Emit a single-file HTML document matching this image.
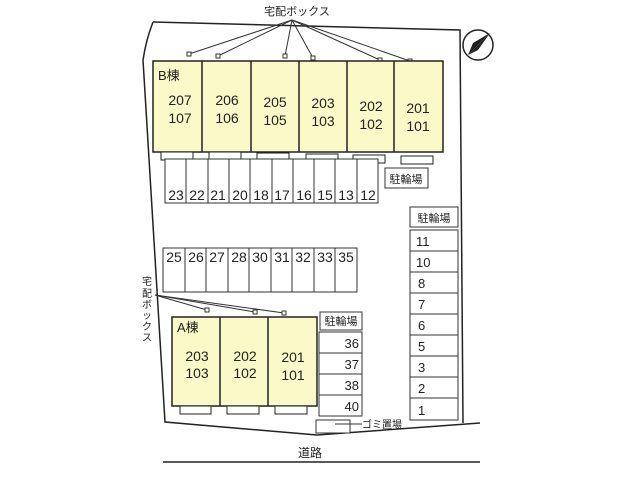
<!DOCTYPE html>
<html><head><meta charset="utf-8"><style>
html,body{margin:0;padding:0;background:#fff;}
svg{display:block;}
text{font-family:"Liberation Sans","Noto Sans CJK JP",sans-serif;fill:#222;}
</style></head><body>
<svg width="640" height="480" viewBox="0 0 640 480">
<g fill="none" stroke="#222" stroke-width="1.5">
<path d="M153,22 L460,30 L463,423"/>
<path d="M153,22 Q146,40 143,60 L165,422 L317,435 L480,423"/>
<path d="M163,462 L480,462"/>
</g>
<text x="310" y="457" font-size="12" text-anchor="middle">道路</text>
<circle cx="478" cy="45" r="15" fill="#fff" stroke="#222" stroke-width="1.5"/>
<path d="M468,55 L490,33 L478,50 Z" fill="#222"/>
<path d="M468,55 L490,33 L473,43 Z" fill="#222"/>
<text x="297" y="15" font-size="11" text-anchor="middle">宅配ボックス</text>
<g stroke="#333" stroke-width="1">
<line x1="292" y1="20" x2="189" y2="54"/><line x1="292" y1="20" x2="218" y2="56"/>
<line x1="292" y1="20" x2="285" y2="56"/><line x1="292" y1="20" x2="313" y2="58"/>
<line x1="292" y1="20" x2="380" y2="60"/><line x1="292" y1="20" x2="410" y2="61"/>
</g>
<g fill="#fff" stroke="#333" stroke-width="1">
<rect x="187" y="52" width="4" height="4"/><rect x="216" y="54" width="4" height="4"/>
<rect x="283" y="54" width="4" height="4"/><rect x="311" y="56" width="4" height="4"/>
<rect x="378" y="58" width="4" height="4"/><rect x="408" y="59" width="4" height="4"/>
</g>
<rect x="153" y="61" width="290" height="91" fill="#fafac8" stroke="#222" stroke-width="1.5"/>
<g stroke="#222" stroke-width="1.5">
<line x1="202" y1="61" x2="202" y2="152"/><line x1="251" y1="61" x2="251" y2="152"/>
<line x1="299" y1="61" x2="299" y2="152"/><line x1="347" y1="61" x2="347" y2="152"/>
<line x1="394" y1="61" x2="394" y2="152"/>
</g>
<g fill="#fff" stroke="#222" stroke-width="1">
<rect x="161" y="152" width="32" height="8"/><rect x="209" y="152" width="32" height="8"/>
<rect x="257" y="153" width="32" height="8"/><rect x="306" y="154" width="32" height="8"/>
<rect x="353" y="155" width="32" height="8"/><rect x="401" y="156" width="32" height="8"/>
</g>
<text x="158" y="80" font-size="13">B棟</text>
<g font-size="14" text-anchor="middle">
<text x="180" y="105">207</text><text x="180" y="123">107</text>
<text x="227" y="105">206</text><text x="227" y="123">106</text>
<text x="275" y="107">205</text><text x="275" y="125">105</text>
<text x="323" y="108">203</text><text x="323" y="126">103</text>
<text x="371" y="111">202</text><text x="371" y="129">102</text>
<text x="418" y="113">201</text><text x="418" y="131">101</text>
</g>
<rect x="165" y="159" width="213" height="44" fill="#fff" stroke="#333"/>
<g stroke="#333" stroke-width="1">
<line x1="186" y1="159" x2="186" y2="203"/><line x1="208" y1="159" x2="208" y2="203"/>
<line x1="229" y1="159" x2="229" y2="203"/><line x1="250" y1="159" x2="250" y2="203"/>
<line x1="272" y1="159" x2="272" y2="203"/><line x1="293" y1="159" x2="293" y2="203"/>
<line x1="314" y1="159" x2="314" y2="203"/><line x1="335" y1="159" x2="335" y2="203"/>
<line x1="357" y1="159" x2="357" y2="203"/>
</g>
<g font-size="14" text-anchor="middle">
<text x="176" y="200">23</text><text x="197" y="200">22</text><text x="218" y="200">21</text>
<text x="240" y="200">20</text><text x="261" y="200">18</text><text x="282" y="200">17</text>
<text x="304" y="200">16</text><text x="325" y="200">15</text><text x="346" y="200">13</text>
<text x="368" y="200">12</text>
</g>
<rect x="385" y="168" width="43" height="20" fill="#fff" stroke="#333"/>
<text x="406" y="183" font-size="11" text-anchor="middle">駐輪場</text>
<rect x="410" y="207" width="48" height="20" fill="#fff" stroke="#333"/>
<text x="434" y="222" font-size="11" text-anchor="middle">駐輪場</text>
<rect x="410" y="230" width="48" height="190" fill="#fff" stroke="#333"/>
<g stroke="#333">
<line x1="410" y1="251" x2="458" y2="251"/><line x1="410" y1="272" x2="458" y2="272"/>
<line x1="410" y1="293" x2="458" y2="293"/><line x1="410" y1="314" x2="458" y2="314"/>
<line x1="410" y1="335" x2="458" y2="335"/><line x1="410" y1="356" x2="458" y2="356"/>
<line x1="410" y1="377" x2="458" y2="377"/><line x1="410" y1="398" x2="458" y2="398"/>
</g>
<g font-size="13">
<text x="416" y="246">11</text><text x="416" y="267">10</text><text x="418" y="288">8</text>
<text x="418" y="309">7</text><text x="418" y="330">6</text><text x="418" y="351">5</text>
<text x="418" y="372">3</text><text x="418" y="393">2</text><text x="418" y="415">1</text>
</g>
<rect x="163" y="248" width="194" height="44" fill="#fff" stroke="#333"/>
<g stroke="#333">
<line x1="185" y1="248" x2="185" y2="292"/><line x1="206" y1="248" x2="206" y2="292"/>
<line x1="228" y1="248" x2="228" y2="292"/><line x1="249" y1="248" x2="249" y2="292"/>
<line x1="271" y1="248" x2="271" y2="292"/><line x1="292" y1="248" x2="292" y2="292"/>
<line x1="314" y1="248" x2="314" y2="292"/><line x1="335" y1="248" x2="335" y2="292"/>
</g>
<g font-size="14" text-anchor="middle">
<text x="174" y="262">25</text><text x="196" y="262">26</text><text x="217" y="262">27</text>
<text x="239" y="262">28</text><text x="260" y="262">30</text><text x="282" y="262">31</text>
<text x="303" y="262">32</text><text x="325" y="262">33</text><text x="346" y="262">35</text>
</g>
<text x="147" y="285" font-size="10" text-anchor="middle">宅</text>
<text x="147" y="297" font-size="10" text-anchor="middle">配</text>
<text x="147" y="308" font-size="10" text-anchor="middle">ボ</text>
<text x="147" y="319" font-size="10" text-anchor="middle">ッ</text>
<text x="147" y="330" font-size="10" text-anchor="middle">ク</text>
<text x="147" y="341" font-size="10" text-anchor="middle">ス</text>
<g stroke="#333"><line x1="155" y1="295" x2="207" y2="310"/><line x1="155" y1="295" x2="255" y2="312"/><line x1="155" y1="295" x2="284" y2="313"/></g>
<g fill="#fff" stroke="#333"><rect x="205" y="308" width="4" height="4"/><rect x="253" y="310" width="4" height="4"/><rect x="282" y="311" width="4" height="4"/></g>
<rect x="172" y="317" width="145" height="89" fill="#fafac8" stroke="#222" stroke-width="1.5"/>
<g stroke="#222" stroke-width="1.5"><line x1="220" y1="317" x2="220" y2="406"/><line x1="268" y1="317" x2="268" y2="406"/></g>
<g fill="#fff" stroke="#222"><rect x="180" y="406" width="31" height="8"/><rect x="227" y="406" width="32" height="8"/><rect x="275" y="406" width="32" height="8"/></g>
<text x="177" y="332" font-size="13">A棟</text>
<g font-size="14" text-anchor="middle">
<text x="197" y="361">203</text><text x="197" y="378">103</text>
<text x="245" y="361">202</text><text x="245" y="378">102</text>
<text x="293" y="362">201</text><text x="293" y="380">101</text>
</g>
<rect x="320" y="312" width="42" height="18" fill="#fff" stroke="#333"/>
<text x="341" y="325" font-size="11" text-anchor="middle">駐輪場</text>
<rect x="319" y="332" width="43" height="84" fill="#fff" stroke="#333"/>
<g stroke="#333"><line x1="319" y1="353" x2="362" y2="353"/><line x1="319" y1="374" x2="362" y2="374"/><line x1="319" y1="395" x2="362" y2="395"/></g>
<g font-size="13" text-anchor="end">
<text x="359" y="348">36</text><text x="359" y="369">37</text><text x="359" y="390">38</text><text x="359" y="411">40</text>
</g>
<rect x="316" y="420" width="34" height="13" fill="#fff" stroke="#333"/>
<line x1="335" y1="424" x2="362" y2="424" stroke="#333"/>
<text x="362" y="428" font-size="10">ゴミ置場</text>
</svg>
</body></html>
